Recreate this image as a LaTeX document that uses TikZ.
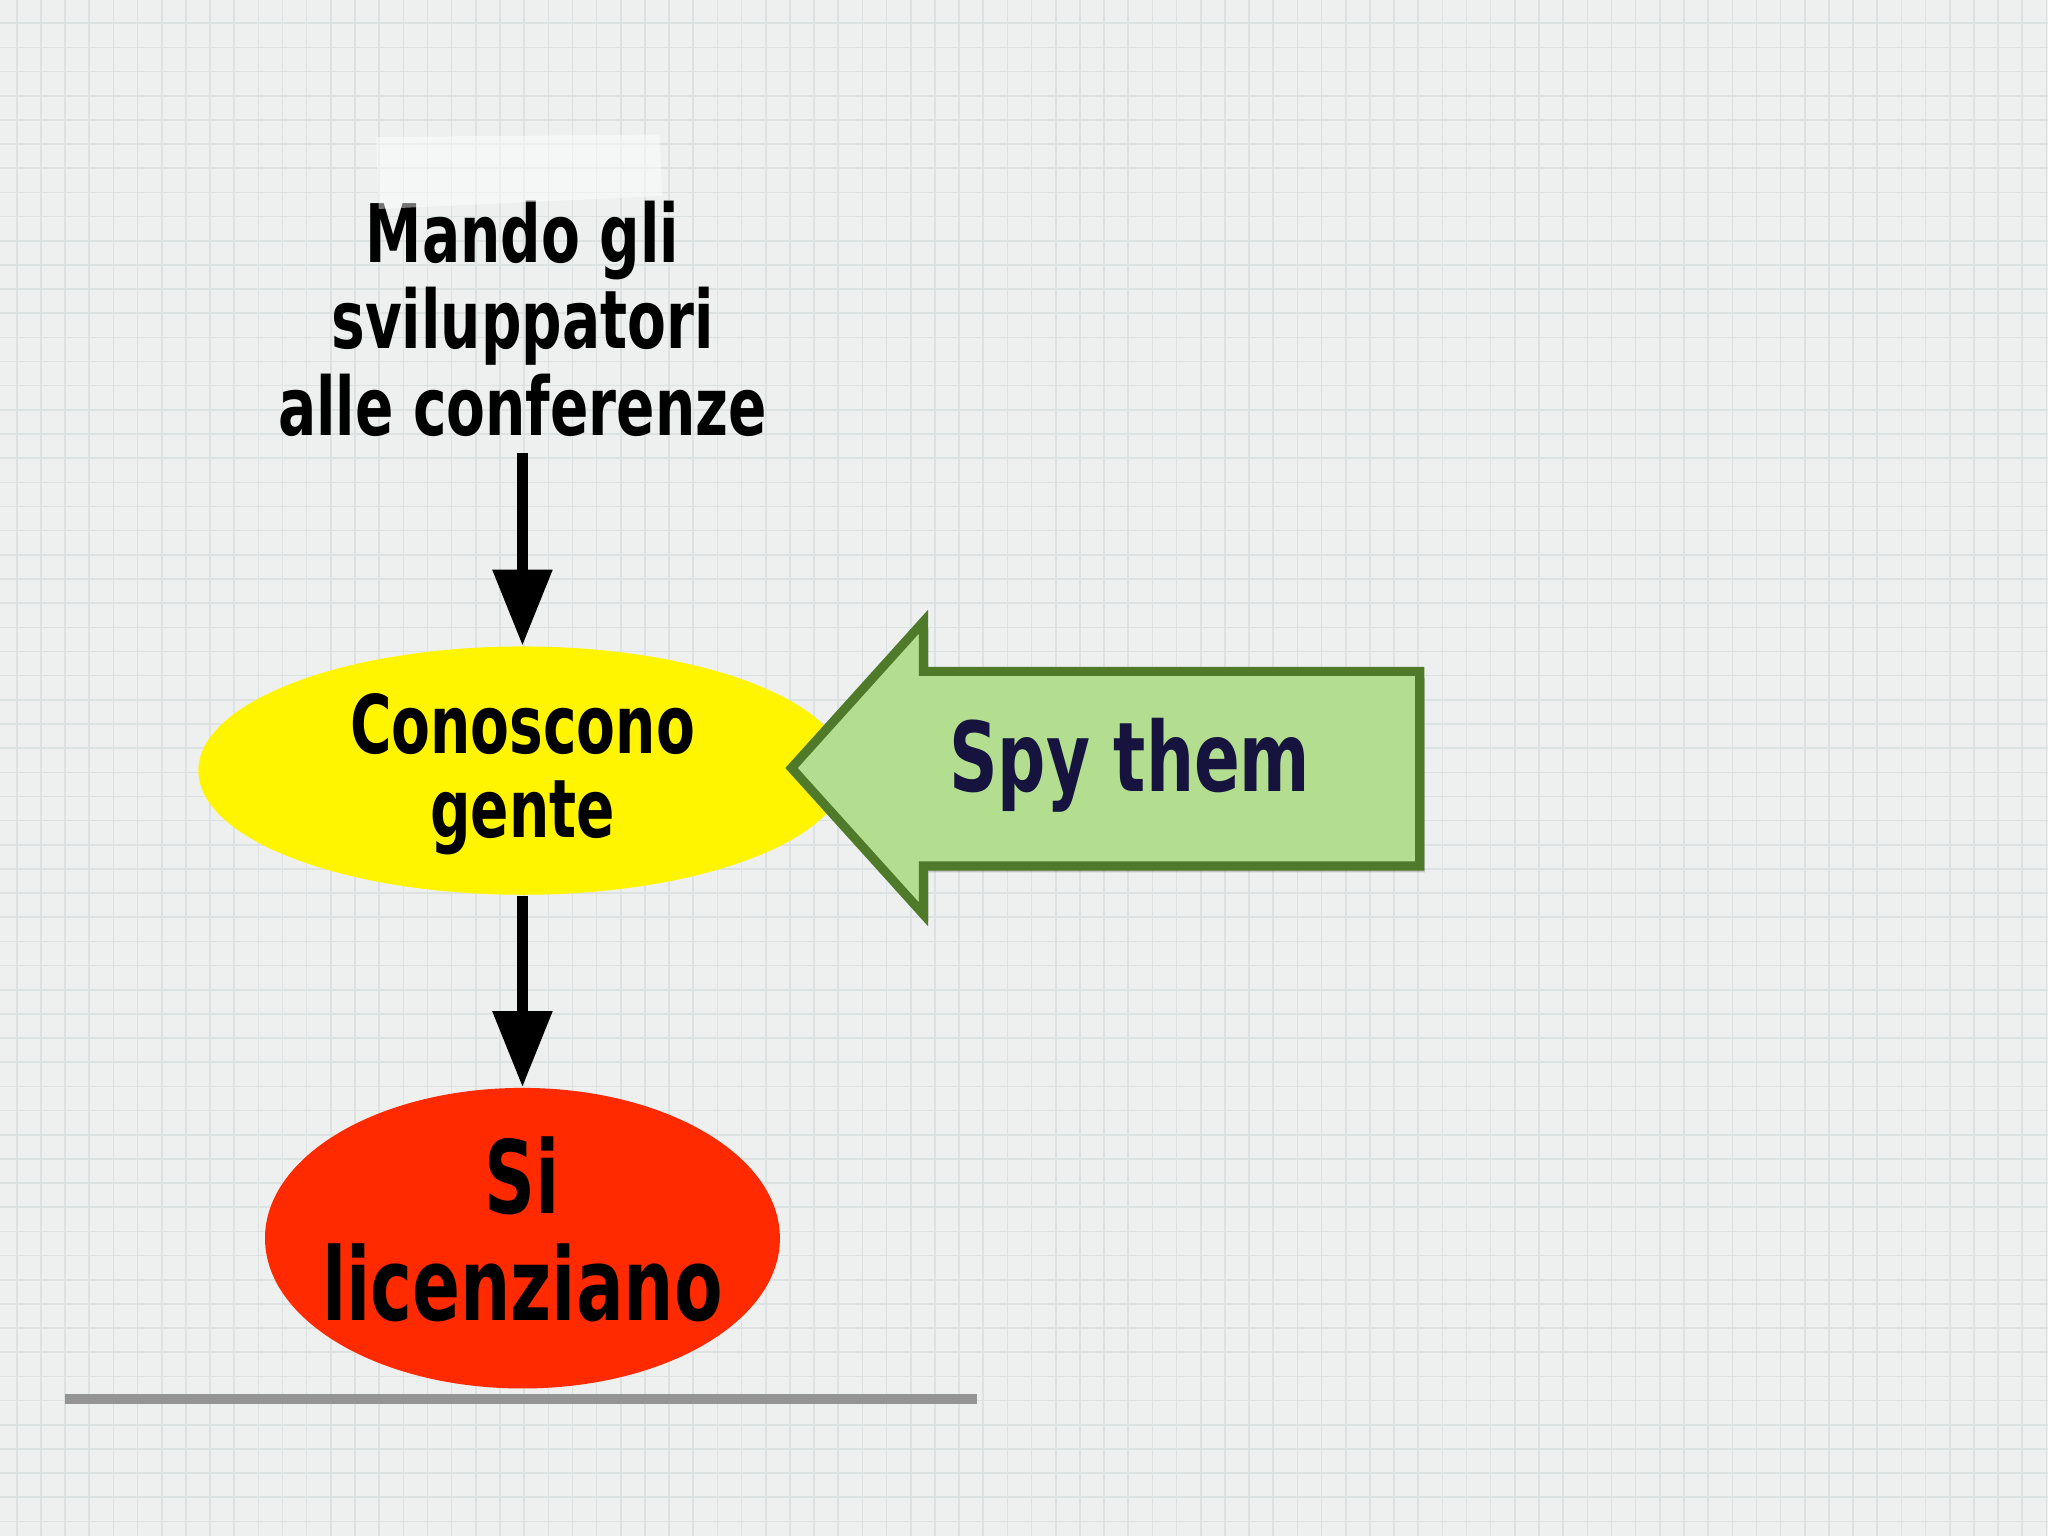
\documentclass[tikz,border=0pt]{standalone}
\usepackage{fontspec}
\newfontfamily\hand[FakeStretch=0.70]{DejaVu Sans}
\usetikzlibrary{arrows.meta,shapes.geometric}
\definecolor{bg}{HTML}{EEF0F0}
\definecolor{gridc}{HTML}{DCE2E2}
\definecolor{yell}{HTML}{FFF500}
\definecolor{redf}{HTML}{FF2A00}
\definecolor{greenf}{HTML}{B3DE8F}
\definecolor{greend}{HTML}{4E7A2A}
\definecolor{navy}{HTML}{16133F}
\tikzset{
  lbl/.style={align=center, text=black, inner sep=0pt},
  flow/.style={line width=0.08cm, draw=black, -{Triangle[length=0.58cm,width=0.44cm]}},
  blob/.style={ellipse, inner sep=0pt, draw=none},
}
\begin{document}
\begin{tikzpicture}[x=0.01cm,y=-0.01cm]
\useasboundingbox (0,0) rectangle (1568,1176);
\fill[bg] (0,0) rectangle (1568,1176);
\foreach \i in {0,...,85} {
  \draw[gridc, line width=0.35pt] (12.8+18.5*\i,0) -- (12.8+18.5*\i,1176);
}
\foreach \j in {0,...,64} {
  \draw[gridc, line width=0.35pt] (0,17.8+18.5*\j) -- (1568,17.8+18.5*\j);
}
% bottom shadow line
\draw[line width=0.075cm, color=black!42] (50,1071) -- (748,1071);
% top text
\node[lbl, font=\hand\bfseries\fontsize{17.6}{18.8}\selectfont] (top) at (400,244) {Mando gli\\sviluppatori\\alle conferenze};
% tape
\fill[white, opacity=0.45] (288,105) -- (505,103) -- (507,150) -- (290,160) -- cycle;
% yellow ellipse
\node[blob, fill=yell, minimum width=4.96cm, minimum height=1.9cm] (cono) at (400,590) {};
\node[lbl, font=\hand\bfseries\fontsize{17.6}{18.3}\selectfont] (conotxt) at (400,593) {Conoscono\\gente};
% red ellipse
\node[blob, fill=redf, minimum width=3.94cm, minimum height=2.3cm] (fire) at (400,948) {};
\node[lbl, font=\hand\bfseries\fontsize{22}{23.3}\selectfont] (firetxt) at (400,941) {Si\\licenziano};
% arrows
\draw[flow] ([yshift=-0.12cm]top.south) -- (cono.north);
\draw[flow] (cono.south) -- (fire.north);
% green arrow
\coordinate (tip) at (606,588);
\fill[black, opacity=0.18] (610,593) -- (711,481) -- (711,519) -- (1091,519) -- (1091,668) -- (711,668) -- (711,705) -- cycle;
\draw[greend, fill=greenf, line width=0.07cm, line join=miter] (tip) -- (707,476) -- (707,514) -- (1087,514) -- (1087,663) -- (707,663) -- (707,700) -- cycle;
\node[lbl, text=navy, anchor=base, font=\hand\bfseries\fontsize{21}{22}\selectfont] (spy) at (865,606) {Spy them};
\end{tikzpicture}
\end{document}
